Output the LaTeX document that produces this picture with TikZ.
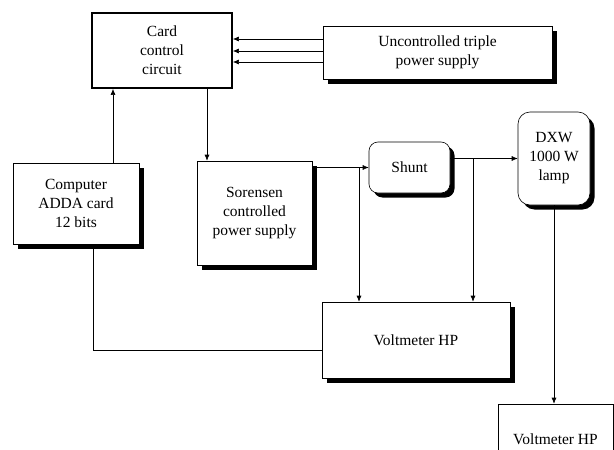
\documentclass[tikz,border=0pt]{standalone}
\usepackage{fontspec}
\setmainfont{Liberation Serif}
\usetikzlibrary{arrows.meta,shadows,calc}
\tikzset{
  boxbase/.style={draw, line width=0.6pt, fill=white, align=center, inner sep=0pt,
    font=\fontsize{15.5}{19}\selectfont},
  shad/.style={drop shadow={shadow xshift=4.5pt, shadow yshift=-4.5pt, fill=black, opacity=1}},
  sbox/.style={boxbase, shad},
  rbox/.style={boxbase, shad, rounded corners=9pt},
  thickbox/.style={boxbase, line width=1.8pt},
  conn/.style={line width=0.6pt},
  arr/.style={conn, -{Latex[length=6pt,width=5pt]}}
}
\begin{document}
\begin{tikzpicture}[x=1pt,y=-1pt]
\useasboundingbox (0,0) rectangle (614,450);
\begin{scope}
\clip (0,0) rectangle (614,450);
% nodes
\node[thickbox, minimum width=140pt, minimum height=75pt] (card) at (162,50.5) {Card\\control\\circuit};
\node[sbox, minimum width=229pt, minimum height=53pt] (unc) at (437.5,52.5) {Uncontrolled triple\\power supply};
\node[sbox, minimum width=126pt, minimum height=81pt] (comp) at (76,203.5) {Computer\\ADDA card\\12 bits};
\node[sbox, minimum width=115pt, minimum height=104pt] (sor) at (254.5,213) {Sorensen\\controlled\\power supply};
\node[rbox, minimum width=81pt, minimum height=51pt] (shunt) at (409.5,167.5) {Shunt};
\node[rbox, rounded corners=12pt, minimum width=72pt, minimum height=93pt] (lamp) at (554,158.5) {DXW\\1000 W\\lamp};
\node[sbox, minimum width=188pt, minimum height=76pt] (volt1) at (416,340) {Voltmeter HP};
\node[boxbase, minimum width=115pt, minimum height=70pt] (volt2) at (555.5,439) {Voltmeter HP};
% connectors
\foreach \s in {13.5,1.5,-9.5}{
  \draw[arr] ([yshift=\s pt]unc.west) -- ([yshift=\s pt]unc.west -| card.east);
}
\draw[arr] ([xshift=37pt]comp.north) -- ([xshift=37pt]comp.north |- card.south);
\draw[arr] ([xshift=45pt]card.south) -- ([xshift=45pt]card.south |- sor.north);
\draw[arr] (sor.east |- shunt.west) -- (shunt.west);
\coordinate (j1) at (359,167.5);
\draw[arr] (j1) -- (j1 |- volt1.north);
\draw[arr] (shunt.east |- lamp.west) -- (lamp.west);
\coordinate (j2) at (473,158.5);
\draw[arr] (j2) -- (j2 |- volt1.north);
\draw[arr] (lamp.south) -- (lamp.south |- volt2.north);
\draw[conn] ([xshift=17pt]comp.south) |- ([yshift=-10pt]volt1.west);
\end{scope}
\end{tikzpicture}
\end{document}
